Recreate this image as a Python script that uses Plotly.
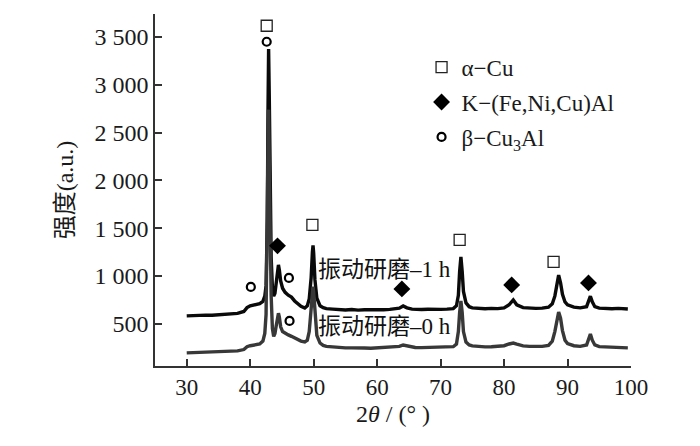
import plotly.graph_objects as go

# 2theta grid shared by both patterns (deg)
two_theta = [30, 31, 32, 33, 34, 35, 36, 37, 38, 39, 39.5, 40, 40.5, 41, 41.5, 42, 42.3, 42.5,
             42.7, 42.8, 42.9, 43.0, 43.1, 43.3, 43.5, 43.7, 43.9, 44.1, 44.3, 44.45, 44.6, 44.8,
             45.1, 45.5, 46, 46.5, 47, 47.5, 48, 48.6, 49.0, 49.3, 49.6, 49.8, 49.9, 50.0, 50.2,
             50.5, 51, 51.5, 52, 53, 54, 55, 56, 57, 58, 59, 60, 61, 62, 63, 63.5, 64.1, 64.7,
             65.5, 66, 67, 68, 69, 70, 71, 72, 72.5, 72.8, 73.0, 73.2, 73.4, 73.6, 74, 74.5, 75,
             76, 77, 78, 79, 80, 80.8, 81.45, 82, 83, 84, 85, 86, 87, 87.6, 88.0, 88.3, 88.6,
             88.9, 89.2, 89.6, 90, 91, 92, 93, 93.3, 93.6, 93.9, 94.3, 95, 96, 97, 98, 99, 99.5]

# vibration milled 1 h (upper, black)
intensity_1h = [584, 588, 586, 592, 590, 596, 598, 602, 610, 630, 670, 690, 700, 705, 712, 735, 790, 900,
                1600, 2700, 3375, 2900, 2100, 1200, 880, 790, 820, 920, 1070, 1117, 1060, 950,
                873, 830, 800, 780, 740, 710, 685, 667, 690, 760, 980, 1250, 1320, 1240, 960,
                770, 690, 670, 660, 655, 650, 646, 650, 644, 648, 645, 650, 648, 652, 655, 665, 688, 668,
                655, 652, 650, 654, 650, 652, 655, 660, 690, 800, 1050, 1200, 1050, 840, 720, 680, 668,
                660, 658, 662, 660, 668, 700, 750, 700, 670, 665, 662, 665, 675, 710, 790, 900, 1010,
                930, 810, 730, 700, 675, 668, 680, 730, 790, 730, 680, 665, 660, 658, 662, 658, 656]

# vibration milled 0 h (lower, grey)
intensity_0h = [197, 200, 198, 203, 205, 207, 210, 212, 218, 232, 262, 272, 278, 282, 290, 320, 400, 600,
                1400, 2300, 2740, 2400, 1700, 800, 450, 370, 400, 480, 580, 612, 570, 470,
                420, 400, 385, 370, 350, 335, 320, 312, 330, 420, 650, 850, 890, 830, 600,
                380, 300, 275, 265, 258, 252, 249, 250, 245, 248, 246, 250, 248, 252, 256, 265, 280, 270,
                258, 254, 252, 255, 252, 255, 258, 262, 290, 420, 620, 740, 620, 420, 310, 280, 270,
                262, 260, 262, 265, 272, 290, 300, 288, 270, 265, 262, 265, 275, 320, 420, 540, 625,
                560, 430, 330, 295, 272, 265, 280, 330, 395, 330, 280, 262, 258, 255, 258, 252, 250]

# phase marks placed above the peaks
cu_x = [42.6, 49.8, 73.0, 87.8]
cu_y = [3617, 1535, 1379, 1148]
k_x = [44.3, 63.9, 81.2, 93.3]
k_y = [1316, 866, 908, 929]
beta_x = [42.6, 40.1, 46.1, 46.2]
beta_y = [3450, 887, 981, 531]

tick_vals = [500, 1000, 1500, 2000, 2500, 3000, 3500]
tick_text = ["500", "1 000", "1 500", "2 000", "2 500", "3 000", "3 500"]

serif = "Liberation Serif, Noto Sans CJK SC, serif"

fig = go.Figure()
fig.add_trace(go.Scatter(x=two_theta, y=intensity_1h, mode="lines", showlegend=False,
                         line=dict(color="#0a0a0a", width=3.4)))
fig.add_trace(go.Scatter(x=two_theta, y=intensity_0h, mode="lines", showlegend=False,
                         line=dict(color="#383838", width=3.4)))

fig.add_trace(go.Scatter(x=cu_x, y=cu_y, mode="markers", name="α−Cu", legendgroup="a",
                         marker=dict(symbol="square-open", size=11, color="#222",
                                     line=dict(width=1.3, color="#222"))))
fig.add_trace(go.Scatter(x=k_x, y=k_y, mode="markers", name="K−(Fe,Ni,Cu)Al", legendgroup="b",
                         marker=dict(symbol="diamond", size=13, color="#000")))
fig.add_trace(go.Scatter(x=beta_x, y=beta_y, mode="markers", name="β−Cu<sub>3</sub>Al", legendgroup="c",
                         marker=dict(symbol="circle-open", size=8, color="#000",
                                     line=dict(width=2.2, color="#000"))))

fig.add_annotation(x=50.4, y=1065, text="振动研磨–1 h", showarrow=False, xanchor="left",
                   font=dict(family=serif, size=23, color="#111"))
fig.add_annotation(x=50.4, y=469, text="振动研磨–0 h", showarrow=False, xanchor="left",
                   font=dict(family=serif, size=23, color="#111"))

# the page puts the figure 8 px in from the top-left corner, margins allow for that
fig.update_layout(
    width=700, height=446,
    margin=dict(l=147, r=77, t=6, b=88),
    plot_bgcolor="white", paper_bgcolor="white",
    font=dict(family=serif, size=24, color="#1a1a1a"),
    legend=dict(x=0.56, y=0.91, xanchor="left", yanchor="top", tracegroupgap=2,
                bgcolor="rgba(0,0,0,0)", font=dict(size=23)),
    xaxis=dict(range=[25, 100], tickvals=[30, 40, 50, 60, 70, 80, 90, 100],
               showline=True, linecolor="#333", linewidth=1.6, ticks="inside",
               ticklen=7, tickwidth=1.5, tickcolor="#333", showgrid=False, zeroline=False,
               tickfont=dict(size=23),
               title=dict(text="2<i>θ</i> / (° )", standoff=6, font=dict(size=24))),
    yaxis=dict(range=[60, 3740], tickvals=tick_vals, ticktext=tick_text,
               showline=True, linecolor="#333", linewidth=1.6, ticks="inside",
               ticklen=7, tickwidth=1.5, tickcolor="#333", showgrid=False, zeroline=False,
               title=dict(text="强度(a.u.)", standoff=14, font=dict(size=24))),
)

fig.write_html("out.html")
